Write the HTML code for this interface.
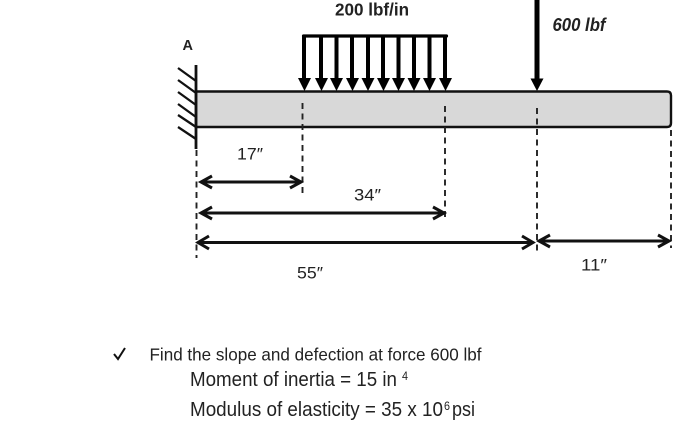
<!DOCTYPE html>
<html><head><meta charset="utf-8"><style>html,body{margin:0;padding:0;background:#fff}svg{display:block}text{font-family:"Liberation Sans",sans-serif;fill:#222}</style></head>
<body>
<svg width="700" height="440" viewBox="0 0 700 440" xmlns="http://www.w3.org/2000/svg">
<path d="M196 91.500H667Q671 91.500 671 95.500V123Q671 127 667 127H196Z" fill="#d8d8d8" stroke="#111" stroke-width="2.400"/>
<path d="M196 65V149" stroke="#111" stroke-width="2.800" fill="none"/>
<path d="M178 68L196 81M178 80L196 93M178 92L196 105M178 104L196 117M178 115L196 127M178 127L196 139" stroke="#111" stroke-width="2.300" fill="none"/>
<path d="M303.500 36H446.500" stroke="#000" stroke-width="3.200" stroke-linecap="round" fill="none"/>
<g stroke="#000" stroke-width="4" fill="none">
<path d="M304 36V80M321 36V80M336.500 36V80M352 36V80M368 36V80M383 36V80M398.500 36V80M414 36V80M429.500 36V80M445 36V80"/>
</g>
<g fill="#000">
<path d="M298 78H311L304.500 91ZM315 78H328L321.500 91ZM330 78H343L336.500 91ZM346 78H359L352.500 91ZM361.500 78H374.500L368 91ZM377 78H390L383.500 91ZM392 78H405L398.500 91ZM407.500 78H420.500L414 91ZM423 78H436L429.500 91ZM439 78H452L445.500 91Z"/>
<path d="M530.500 78.500H543.500L537 91Z"/>
</g>
<path d="M537 0V80" stroke="#000" stroke-width="5" fill="none"/>
<g stroke="#222" stroke-width="1.900" stroke-dasharray="6 4.500" fill="none">
<path d="M196.500 150V258"/><path d="M302.500 103V196"/><path d="M445 106V217"/><path d="M537 108V253"/><path d="M671 130V248"/>
</g>
<g stroke="#111" stroke-width="3" fill="none">
<path d="M201 182H301M212 176L201 182L212 188M290 176L301 182L290 188"/>
<path d="M201 213H444M212 207L201 213L212 219M433 207L444 213L433 219"/>
<path d="M198 242.500H533M209 236L198 242.500L209 249M522 236L533 242.500L522 249"/>
<path d="M539 241H669M550 235L539 241L550 247M658 235L669 241L658 247"/>
</g>
<text x="335" y="15.500" font-size="17.500" font-weight="700" textLength="74" lengthAdjust="spacingAndGlyphs">200 lbf/in</text>
<text x="552.500" y="31" font-size="18" font-weight="700" font-style="italic" textLength="53" lengthAdjust="spacingAndGlyphs">600 lbf</text>
<text x="182.500" y="50" font-size="14.500" font-weight="700">A</text>
<text x="237" y="159.500" font-size="17" textLength="26" lengthAdjust="spacingAndGlyphs">17″</text>
<text x="354" y="200.500" font-size="17" textLength="27" lengthAdjust="spacingAndGlyphs">34″</text>
<text x="297" y="278.500" font-size="17" textLength="26" lengthAdjust="spacingAndGlyphs">55″</text>
<text x="581" y="270.500" font-size="17" textLength="26" lengthAdjust="spacingAndGlyphs">11″</text>
<path d="M114 354L118 359L125 348" stroke="#111" stroke-width="2" fill="none"/>
<text x="149.500" y="360.500" font-size="17.500" textLength="332" lengthAdjust="spacingAndGlyphs">Find the slope and  defection at force 600 lbf</text>
<text x="190" y="386" font-size="20" textLength="207" lengthAdjust="spacingAndGlyphs">Moment of inertia = 15 in</text>
<text x="402" y="380" font-size="12" textLength="6" lengthAdjust="spacingAndGlyphs">4</text>
<text x="190" y="416" font-size="20" textLength="253" lengthAdjust="spacingAndGlyphs">Modulus of elasticity = 35 x 10</text>
<text x="444" y="410" font-size="12" textLength="6" lengthAdjust="spacingAndGlyphs">6</text>
<text x="452" y="416" font-size="20" textLength="23" lengthAdjust="spacingAndGlyphs">psi</text>
</svg>
</body></html>
